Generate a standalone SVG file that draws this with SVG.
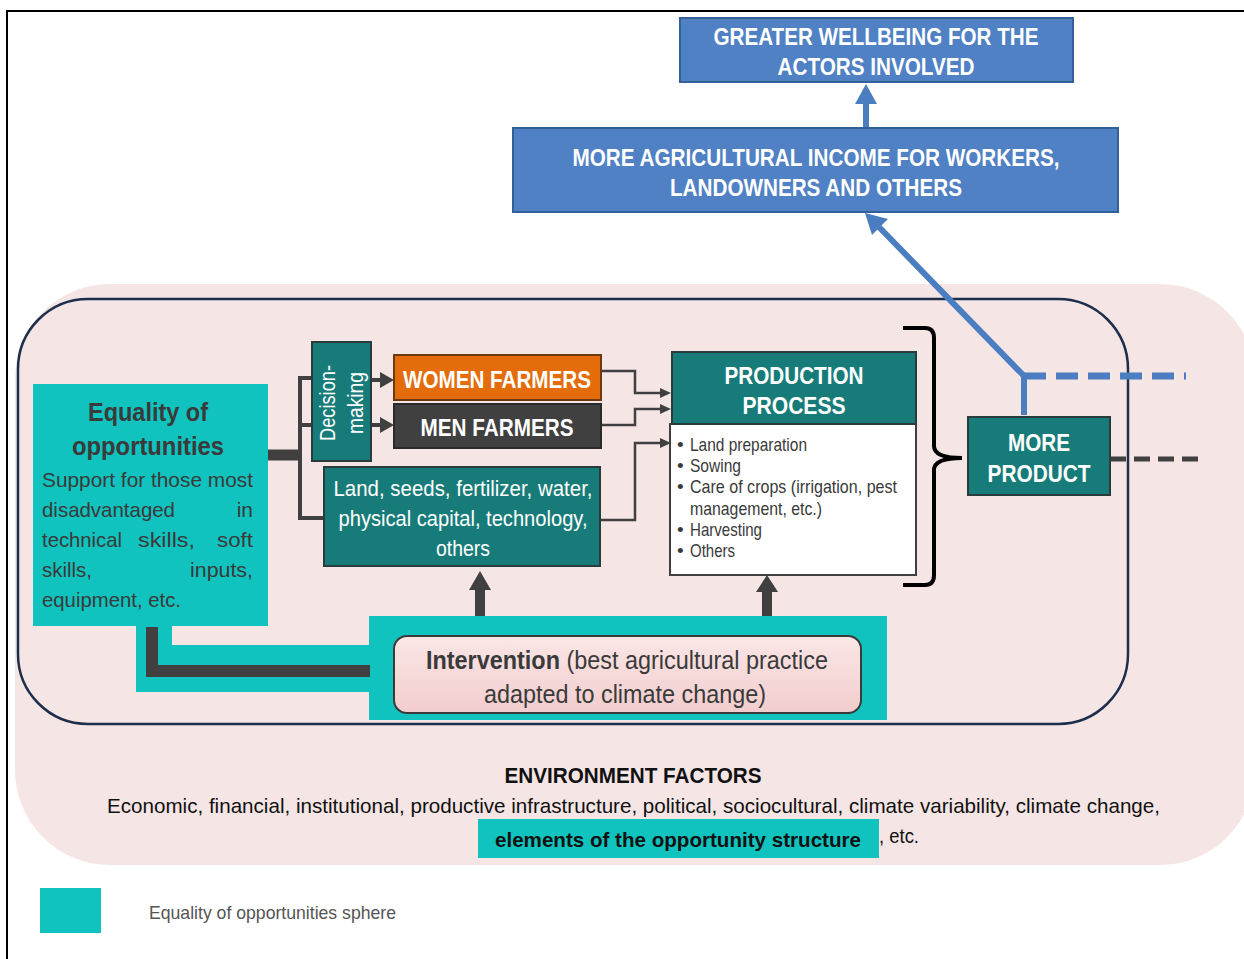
<svg xmlns="http://www.w3.org/2000/svg" width="1244" height="959" viewBox="0 0 1244 959">
<defs>
<style>
.bluebox{fill:#4f81c4;stroke:#34609a;stroke-width:2}
.teal{fill:#177c79;stroke:#2a3b3b;stroke-width:2}
.cyan{fill:#10c3be}
.wb{font-family:"Liberation Sans",Arial,sans-serif;font-weight:bold;fill:#ffffff;text-anchor:middle}
.wr{font-family:"Liberation Sans",Arial,sans-serif;fill:#ffffff;text-anchor:middle}
.dg{font-family:"Liberation Sans",Arial,sans-serif;fill:#3a3a3a}
.bk{font-family:"Liberation Sans",Arial,sans-serif;fill:#111111}
.thin{fill:none;stroke:#404040;stroke-width:2.5}
</style>
<linearGradient id="pinkg" x1="0" y1="0" x2="0" y2="1">
<stop offset="0" stop-color="#fbe6e6"/>
<stop offset="1" stop-color="#f2cdcd"/>
</linearGradient>
</defs>
<rect x="0" y="0" width="1244" height="959" fill="#ffffff"/>
<rect x="7" y="11" width="1250" height="960" fill="none" stroke="#000" stroke-width="2"/>

<g id="environment">
<rect x="15" y="284" width="1240" height="581" rx="95" ry="95" fill="#f5e5e5"/>
<rect x="18" y="299" width="1110" height="425" rx="70" ry="70" fill="none" stroke="#1e2f4c" stroke-width="2.5"/>
<text class="bk" x="633" y="783" font-size="22" font-weight="bold" text-anchor="middle" textLength="257" lengthAdjust="spacingAndGlyphs">ENVIRONMENT FACTORS</text>
<text class="bk" x="107" y="813" font-size="21" textLength="1053" lengthAdjust="spacingAndGlyphs">Economic, financial, institutional, productive infrastructure, political, sociocultural, climate variability, climate change,</text>
<rect class="cyan" x="478" y="819" width="401" height="39"/>
<text class="bk" x="678" y="847" font-size="21" font-weight="bold" text-anchor="middle" textLength="366" lengthAdjust="spacingAndGlyphs">elements  of the opportunity structure</text>
<text class="bk" x="879" y="843" font-size="21" textLength="40" lengthAdjust="spacingAndGlyphs">, etc.</text>
</g>

<g id="sphere">
<path class="cyan" d="M136,626 H172 V645 H369 V692 H136 Z"/>
<rect class="cyan" x="369" y="616" width="518" height="104"/>
</g>

<g id="connectors">
<line x1="866" y1="128" x2="866" y2="100" stroke="#4a7ec0" stroke-width="6"/>
<path d="M855,104 L866,84 L877,104 Z" fill="#4a7ec0"/>
<polyline points="1024,415 1024,376 878,226" fill="none" stroke="#4a7ec0" stroke-width="6"/>
<path d="M865,213 L888,219 L872,235 Z" fill="#4a7ec0"/>
<line x1="1024" y1="376" x2="1186" y2="376" stroke="#4a7ec0" stroke-width="7" stroke-dasharray="22,10"/>
<line x1="1110" y1="459" x2="1200" y2="459" stroke="#404040" stroke-width="5" stroke-dasharray="16,8"/>
<path d="M268,455 H300" stroke="#404040" stroke-width="11" fill="none"/>
<path d="M312,378 H300 V518 H324" stroke="#404040" stroke-width="4" fill="none"/>
<line x1="300" y1="425" x2="312" y2="425" stroke="#404040" stroke-width="4"/>
<line x1="371" y1="380" x2="380" y2="380" stroke="#404040" stroke-width="4"/>
<path d="M380,372 L394,380 L380,388 Z" fill="#404040"/>
<line x1="371" y1="425" x2="380" y2="425" stroke="#404040" stroke-width="4"/>
<path d="M380,417 L394,425 L380,433 Z" fill="#404040"/>
<polyline class="thin" points="601,371 635,371 635,393 662,393"/>
<path d="M660,388 L671,393 L660,398 Z" fill="#404040"/>
<polyline class="thin" points="601,425 635,425 635,409 662,409"/>
<path d="M660,404 L671,409 L660,414 Z" fill="#404040"/>
<polyline class="thin" points="600,520 635,520 635,443 662,443"/>
<path d="M660,438 L671,443 L660,448 Z" fill="#404040"/>
<line x1="480" y1="616" x2="480" y2="588" stroke="#404040" stroke-width="10"/>
<path d="M469,590 L480,571 L491,590 Z" fill="#404040"/>
<line x1="767" y1="616" x2="767" y2="590" stroke="#404040" stroke-width="10"/>
<path d="M756,592 L767,575 L778,592 Z" fill="#404040"/>
<path d="M152,627 V671 H370" stroke="#404040" stroke-width="12" fill="none"/>
<path d="M903,328 H925 Q934,328 934,338 V446 Q934,458 962,458 Q934,458 934,470 V575 Q934,585 925,585 H903" fill="none" stroke="#000" stroke-width="4"/>
</g>

<g id="wellbeing">
<rect class="bluebox" x="680" y="18" width="393" height="64"/>
<text class="wb" x="876" y="45" font-size="24" textLength="325" lengthAdjust="spacingAndGlyphs">GREATER WELLBEING FOR THE</text>
<text class="wb" x="876" y="75" font-size="24" textLength="197" lengthAdjust="spacingAndGlyphs">ACTORS INVOLVED</text>
</g>

<g id="income">
<rect class="bluebox" x="513" y="128" width="605" height="84"/>
<text class="wb" x="816" y="166" font-size="24" textLength="487" lengthAdjust="spacingAndGlyphs">MORE AGRICULTURAL INCOME FOR WORKERS,</text>
<text class="wb" x="816" y="196" font-size="24" textLength="292" lengthAdjust="spacingAndGlyphs">LANDOWNERS AND OTHERS</text>
</g>

<g id="equality">
<rect class="cyan" x="33" y="384" width="235" height="242"/>
<text class="dg" x="148" y="421" font-size="26" font-weight="bold" text-anchor="middle" textLength="120" lengthAdjust="spacingAndGlyphs">Equality of</text>
<text class="dg" x="148" y="455" font-size="26" font-weight="bold" text-anchor="middle" textLength="152" lengthAdjust="spacingAndGlyphs">opportunities</text>
<text class="dg" x="42" y="487" font-size="21" textLength="211" lengthAdjust="spacingAndGlyphs">Support for those most</text>
<text class="dg" x="42" y="517" font-size="21" textLength="133" lengthAdjust="spacingAndGlyphs">disadvantaged</text>
<text class="dg" x="253" y="517" font-size="21" text-anchor="end">in</text>
<text class="dg" x="42" y="547" font-size="21" textLength="80" lengthAdjust="spacingAndGlyphs">technical</text>
<text class="dg" x="138" y="547" font-size="21" textLength="57" lengthAdjust="spacingAndGlyphs">skills,</text>
<text class="dg" x="253" y="547" font-size="21" text-anchor="end" textLength="36" lengthAdjust="spacingAndGlyphs">soft</text>
<text class="dg" x="42" y="577" font-size="21" textLength="50" lengthAdjust="spacingAndGlyphs">skills,</text>
<text class="dg" x="253" y="577" font-size="21" text-anchor="end" textLength="63" lengthAdjust="spacingAndGlyphs">inputs,</text>
<text class="dg" x="42" y="607" font-size="21" textLength="139" lengthAdjust="spacingAndGlyphs">equipment,  etc.</text>
</g>

<g id="decision">
<rect class="teal" x="312" y="342" width="59" height="119"/>
<text class="wr" transform="translate(335,403) rotate(-90)" font-size="22" textLength="76" lengthAdjust="spacingAndGlyphs">Decision-</text>
<text class="wr" transform="translate(363,403) rotate(-90)" font-size="22" textLength="62" lengthAdjust="spacingAndGlyphs">making</text>
</g>

<g id="women">
<rect x="394" y="355" width="207" height="45" fill="#e46c0a" stroke="#6b3a10" stroke-width="2"/>
<text class="wb" x="497" y="388" font-size="23" textLength="188" lengthAdjust="spacingAndGlyphs">WOMEN FARMERS</text>
</g>

<g id="men">
<rect x="394" y="404" width="207" height="44" fill="#404040" stroke="#2a2a2a" stroke-width="2"/>
<text class="wb" x="497" y="436" font-size="23" textLength="153" lengthAdjust="spacingAndGlyphs">MEN FARMERS</text>
</g>

<g id="inputs">
<rect class="teal" x="324" y="467" width="276" height="99"/>
<text class="wr" x="463" y="496" font-size="22" textLength="259" lengthAdjust="spacingAndGlyphs">Land,  seeds,  fertilizer,  water,</text>
<text class="wr" x="463" y="526" font-size="22" textLength="249" lengthAdjust="spacingAndGlyphs">physical  capital,  technology,</text>
<text class="wr" x="463" y="556" font-size="22" textLength="54" lengthAdjust="spacingAndGlyphs">others</text>
</g>

<g id="production">
<rect x="670" y="424" width="246" height="151" fill="#ffffff" stroke="#404040" stroke-width="2"/>
<rect class="teal" x="672" y="352" width="244" height="72"/>
<text class="wb" x="794" y="384" font-size="23" textLength="139" lengthAdjust="spacingAndGlyphs">PRODUCTION</text>
<text class="wb" x="794" y="414" font-size="23" textLength="103" lengthAdjust="spacingAndGlyphs">PROCESS</text>
<g class="dg" font-size="19" fill="#444">
<text x="677" y="451">•</text><text x="690" y="451" textLength="117" lengthAdjust="spacingAndGlyphs">Land preparation</text>
<text x="677" y="472">•</text><text x="690" y="472" textLength="51" lengthAdjust="spacingAndGlyphs">Sowing</text>
<text x="677" y="493">•</text><text x="690" y="493" textLength="207" lengthAdjust="spacingAndGlyphs">Care of crops (irrigation,  pest</text>
<text x="690" y="515" textLength="132" lengthAdjust="spacingAndGlyphs">management, etc.)</text>
<text x="677" y="536">•</text><text x="690" y="536" textLength="72" lengthAdjust="spacingAndGlyphs">Harvesting</text>
<text x="677" y="557">•</text><text x="690" y="557" textLength="45" lengthAdjust="spacingAndGlyphs">Others</text>
</g>
</g>

<g id="moreproduct">
<rect class="teal" x="968" y="417" width="142" height="78"/>
<text class="wb" x="1039" y="451" font-size="23" textLength="62" lengthAdjust="spacingAndGlyphs">MORE</text>
<text class="wb" x="1039" y="482" font-size="23" textLength="103" lengthAdjust="spacingAndGlyphs">PRODUCT</text>
</g>

<g id="intervention">
<rect x="394" y="636" width="467" height="77" rx="13" ry="13" fill="url(#pinkg)" stroke="#3a3a3a" stroke-width="2"/>
<text class="dg" x="627" y="669" font-size="26" text-anchor="middle" textLength="402" lengthAdjust="spacingAndGlyphs"><tspan font-weight="bold">Intervention</tspan> (best agricultural practice</text>
<text class="dg" x="625" y="703" font-size="26" text-anchor="middle" textLength="282" lengthAdjust="spacingAndGlyphs">adapted to climate change)</text>
</g>

<g id="legend">
<rect class="cyan" x="40" y="888" width="61" height="45"/>
<text x="149" y="919" font-family="'Liberation Sans',Arial,sans-serif" font-size="19" fill="#555" textLength="247" lengthAdjust="spacingAndGlyphs">Equality of opportunities sphere</text>
</g>
</svg>
